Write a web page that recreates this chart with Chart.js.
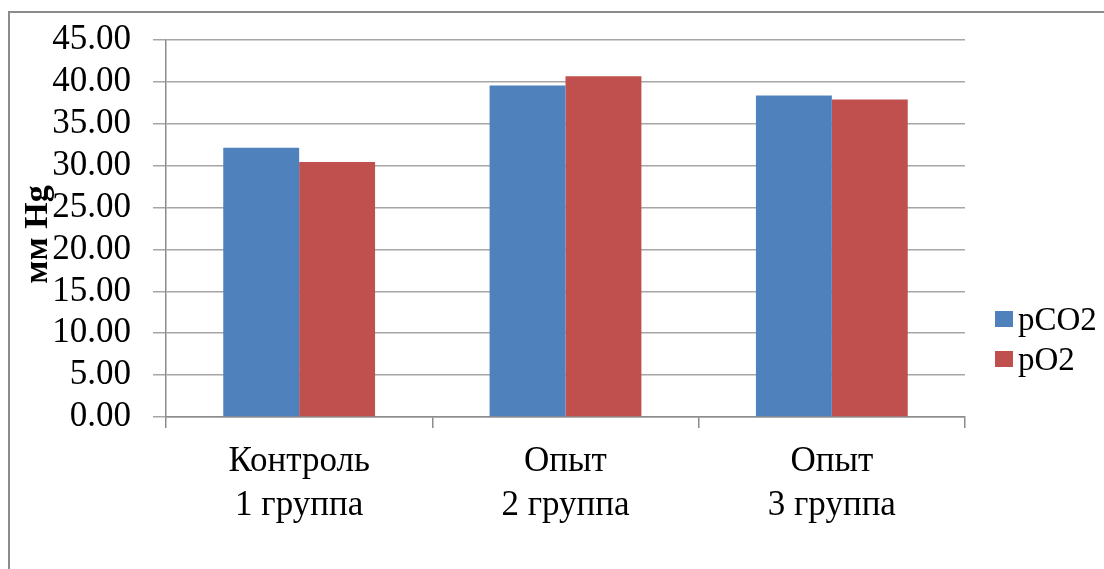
<!DOCTYPE html>
<html>
<head>
<meta charset="utf-8">
<script src="https://cdn.jsdelivr.net/npm/chart.js@4"></script>
<style>
  body { margin: 0; background: #fff; }
  #wrap { position: relative; width: 1104px; height: 569px; overflow: hidden; }
  #frame { position: absolute; left: 8px; top: 11px; width: 1200px; height: 700px;
           border-left: 2px solid #8c8c8c; border-top: 2px solid #8c8c8c; }
  #legend { position: absolute; left: 995px; top: 299px; font-family: 'Liberation Serif', 'DejaVu Serif', serif;
            font-size: 33px; color: #000; }
  .row { display: flex; align-items: center; height: 40px; }
  .sw { width: 18px; height: 16px; margin-right: 5px; }
</style>
</head>
<body>
<div id="wrap">
  <div id="frame"></div>
  <canvas id="c" width="1104" height="569"></canvas>
  <div id="legend"></div>
</div>
<script>
var categories = [['Контроль', '1 группа'], ['Опыт', '2 группа'], ['Опыт', '3 группа']];
var seriesNames = ['pCO2', 'pO2'];
var pCO2 = [32.15, 39.58, 38.39];
var pO2 = [30.43, 40.66, 37.91];
var yTitle = 'мм Hg';
var myColors = ['#4F81BD', '#C0504D'];

var serif = "'Liberation Serif', 'DejaVu Serif', serif";

var yTitlePlugin = {
    id: 'yTitle',
    afterDraw: function (chart) {
        var ctx = chart.ctx, a = chart.chartArea;
        ctx.save();
        ctx.translate(a.left - 119, (a.top + a.bottom) / 2 + 6);
        ctx.rotate(-Math.PI / 2);
        ctx.font = 'bold 34px ' + serif;
        ctx.fillStyle = '#000';
        ctx.textAlign = 'center';
        ctx.textBaseline = 'alphabetic';
        ctx.fillText(yTitle, 0, 0);
        ctx.restore();
    }
};

var datasets = [pCO2, pO2].map(function (vals, i) {
    return {
        label: seriesNames[i],
        data: vals,
        backgroundColor: myColors[i],
        borderWidth: 0,
        barPercentage: 1,
        categoryPercentage: 0.57
    };
});

new Chart(document.getElementById('c'), {
    type: 'bar',
    data: { labels: categories, datasets: datasets },
    options: {
        responsive: false,
        animation: false,
        layout: { padding: { top: 40, right: 139, left: 0, bottom: 0 } },
        plugins: { legend: { display: false }, tooltip: { enabled: false } },
        scales: {
            x: {
                grid: { drawOnChartArea: false, drawTicks: true, tickLength: 11, color: '#8c8c8c', lineWidth: 1.5 },
                border: { color: '#8c8c8c', width: 1.5 },
                ticks: { color: '#000', font: { family: serif, size: 35, lineHeight: 1.26 }, padding: 12, maxRotation: 0 },
                afterFit: function (s) { s.height = 152; }
            },
            y: {
                min: 0, max: 45,
                grid: { color: '#a6a6a6', lineWidth: 1.5, tickLength: 13 },
                border: { color: '#8c8c8c', width: 1.5 },
                ticks: { stepSize: 5, autoSkip: false, color: '#000', font: { family: serif, size: 35, lineHeight: 1 },
                         padding: 22, callback: function (v) { return v.toFixed(2); } },
                afterFit: function (s) { s.width = 166; }
            }
        }
    },
    plugins: [yTitlePlugin]
});

var leg = document.getElementById('legend');
seriesNames.forEach(function (name, i) {
    var row = document.createElement('div');
    row.className = 'row';
    var sw = document.createElement('span');
    sw.className = 'sw';
    sw.style.background = myColors[i];
    var t = document.createElement('span');
    t.textContent = name;
    row.appendChild(sw);
    row.appendChild(t);
    leg.appendChild(row);
});
</script>
</body>
</html>
